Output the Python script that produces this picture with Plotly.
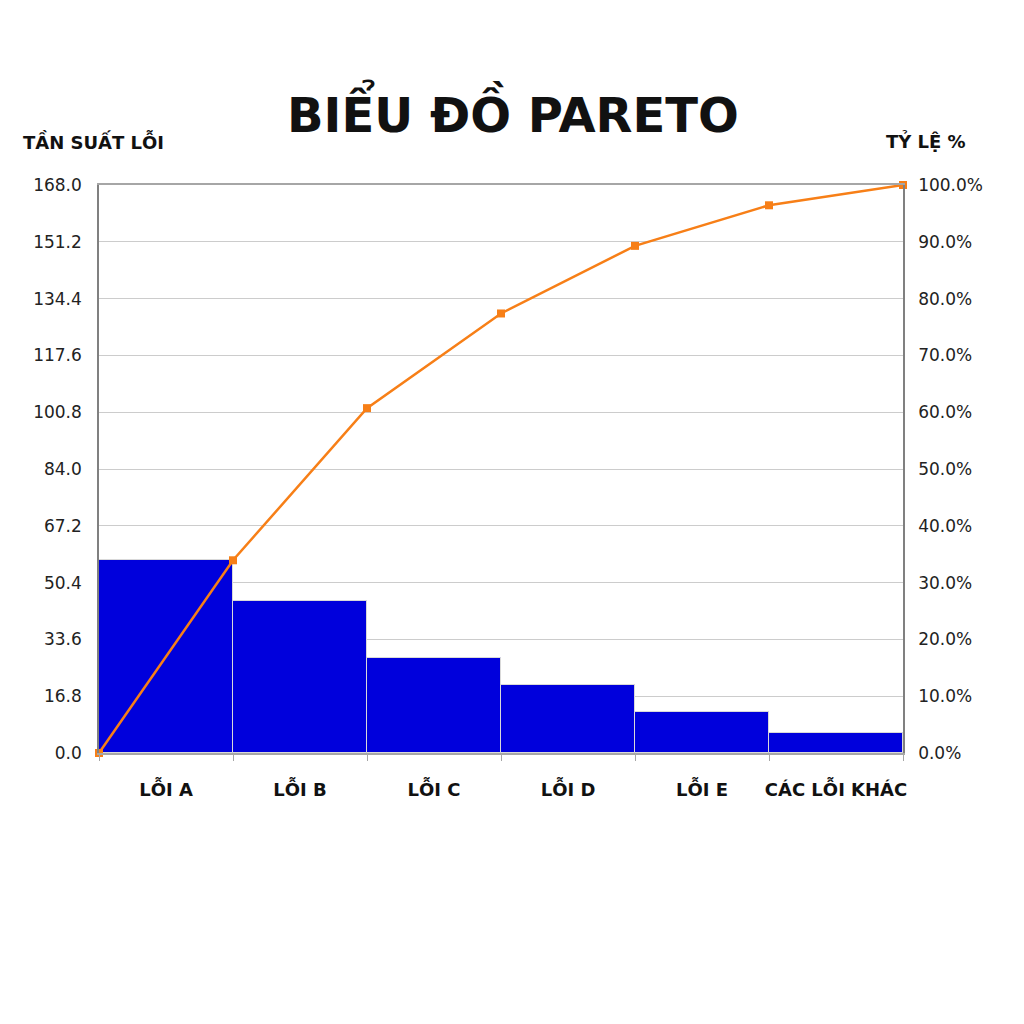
import plotly.graph_objects as go

# data
categories = ['LỖI A', 'LỖI B', 'LỖI C', 'LỖI D', 'LỖI E', 'CÁC LỖI KHÁC']
counts = [57, 45, 28, 20, 12, 6]
left_ticks = [0.0, 16.8, 33.6, 50.4, 67.2, 84.0, 100.8, 117.6, 134.4, 151.2, 168.0]
right_ticks = [0, 10, 20, 30, 40, 50, 60, 70, 80, 90, 100]

total = sum(counts)
bar_x = [i + 0.5 for i in range(len(counts))]
cum_x = list(range(len(counts) + 1))
cum_pct = [0.0]
run = 0
for c in counts:
    run += c
    cum_pct.append(run / total * 100)

fig = go.Figure()
fig.add_trace(go.Bar(
    x=bar_x, y=counts, width=1,
    marker=dict(color='#0000DC', line=dict(color='#d9d9d9', width=1)),
    showlegend=False, hoverinfo='y'))
fig.add_trace(go.Scatter(
    x=cum_x, y=cum_pct, yaxis='y2', mode='lines+markers',
    line=dict(color='#F77F17', width=2.5),
    marker=dict(symbol='square', size=8, color='#F77F17'),
    showlegend=False, cliponaxis=False))

tick_font = dict(family='DejaVu Sans', size=17, color='#222222')
label_font = dict(family='DejaVu Sans', size=18, color='#111111', weight='bold')

fig.update_layout(
    width=1024, height=1024,
    margin=dict(l=91, r=129, t=177, b=279),
    paper_bgcolor='white', plot_bgcolor='white',
    bargap=0,
    xaxis=dict(
        range=[0, len(counts)],
        tickmode='array', tickvals=bar_x, ticktext=categories,
        ticks='', tickfont=label_font, ticklabelstandoff=20,
        showgrid=False, zeroline=False,
        showline=True, linecolor='#a6a6a6', linewidth=1.5, mirror=True,
        minor=dict(tickmode='linear', tick0=0, dtick=1, ticks='outside',
                   ticklen=6, tickcolor='#a6a6a6', showgrid=False),
    ),
    yaxis=dict(
        range=[0, total], tickmode='array', tickvals=left_ticks,
        ticktext=[f'{v:.1f}' for v in left_ticks],
        tickfont=tick_font, ticklabelstandoff=12,
        showgrid=True, gridcolor='#cccccc', gridwidth=1, zeroline=False,
        showline=True, linecolor='#808080', linewidth=1.5,
    ),
    yaxis2=dict(
        overlaying='y', side='right', range=[0, 100],
        tickmode='array', tickvals=right_ticks,
        ticktext=[f'{v:.1f}%' for v in right_ticks],
        tickfont=tick_font, ticklabelstandoff=10,
        showgrid=False, zeroline=False,
        showline=True, linecolor='#808080', linewidth=1.5,
    ),
    annotations=[
        dict(text='BIỂU ĐỒ PARETO', xref='paper', yref='paper',
             x=0.515, y=1.13, xanchor='center', yanchor='middle', showarrow=False,
             font=dict(family='DejaVu Sans', size=48, color='#111111', weight='bold')),
        dict(text='TẦN SUẤT LỖI', xref='paper', yref='paper',
             x=-0.097, y=1.077, xanchor='left', yanchor='middle', showarrow=False,
             font=dict(family='DejaVu Sans', size=18, color='#111111', weight='bold')),
        dict(text='TỶ LỆ %', xref='paper', yref='paper',
             x=1.081, y=1.077, xanchor='right', yanchor='middle', showarrow=False,
             font=dict(family='DejaVu Sans', size=18, color='#111111', weight='bold')),
    ],
)

fig.write_html('out.html')
